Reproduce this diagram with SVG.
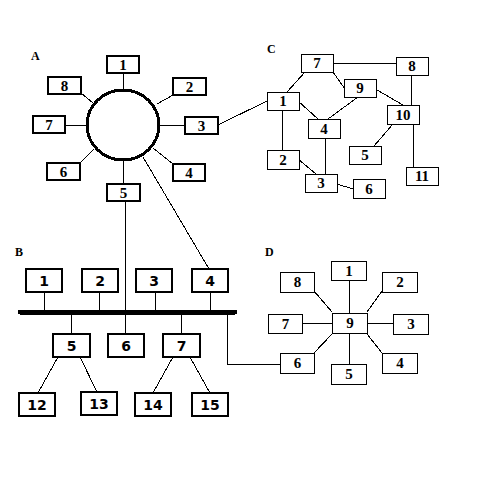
<svg xmlns="http://www.w3.org/2000/svg" width="500" height="500" viewBox="0 0 500 500" shape-rendering="crispEdges">
<style>
.bg{fill:#fff}
.ln{stroke:#000;stroke-width:1;fill:none}
.bA{fill:#fff;stroke:#000;stroke-width:2}
.bC{fill:#fff;stroke:#000;stroke-width:1}
.bB{fill:#fff;stroke:#000;stroke-width:2}
.tA{font-family:"Liberation Serif",serif;font-weight:bold;font-size:15px;text-anchor:middle}
.tC{font-family:"Liberation Serif",serif;font-weight:bold;font-size:15px;text-anchor:middle}
.tB{font-family:"DejaVu Sans",sans-serif;font-weight:bold;font-size:14px;text-anchor:middle}
.lab{font-family:"Liberation Serif",serif;font-weight:bold;font-size:12px}
</style>
<rect class="bg" x="0" y="0" width="500" height="500"/>
<g id="connectors">
<!-- A -->
<line class="ln" x1="123.5" y1="73" x2="123.5" y2="90"/>
<line class="ln" x1="157" y1="104" x2="173" y2="95"/>
<line class="ln" x1="81" y1="93" x2="93" y2="103"/>
<line class="ln" x1="65" y1="125.5" x2="87" y2="125.5"/>
<line class="ln" x1="159" y1="125.5" x2="185" y2="125.5"/>
<line class="ln" x1="80" y1="163" x2="94" y2="149"/>
<line class="ln" x1="153" y1="148" x2="173" y2="164"/>
<line class="ln" x1="123.5" y1="160" x2="123.5" y2="184"/>
<line class="ln" x1="218" y1="125" x2="267" y2="101"/>
<line class="ln" x1="143" y1="157" x2="209" y2="269"/>
<line class="ln" x1="125.5" y1="201" x2="125.5" y2="334"/>
<!-- C -->
<line class="ln" x1="333" y1="63.5" x2="396" y2="63.5"/>
<line class="ln" x1="305" y1="72" x2="287" y2="92"/>
<line class="ln" x1="333" y1="72" x2="345" y2="89"/>
<line class="ln" x1="377" y1="90" x2="403" y2="105"/>
<line class="ln" x1="358" y1="97" x2="328" y2="119"/>
<line class="ln" x1="298" y1="101" x2="318" y2="119"/>
<line class="ln" x1="411.5" y1="75" x2="411.5" y2="105"/>
<line class="ln" x1="393" y1="124" x2="374" y2="146"/>
<line class="ln" x1="413.5" y1="124" x2="413.5" y2="167"/>
<line class="ln" x1="282.5" y1="110" x2="282.5" y2="150"/>
<line class="ln" x1="298" y1="159" x2="316" y2="174"/>
<line class="ln" x1="325.5" y1="138" x2="325.5" y2="174"/>
<line class="ln" x1="337" y1="184" x2="353" y2="189"/>
<!-- B -->
<line class="ln" x1="44.5" y1="292" x2="44.5" y2="311"/>
<line class="ln" x1="99.5" y1="292" x2="99.5" y2="311"/>
<line class="ln" x1="155.5" y1="292" x2="155.5" y2="311"/>
<line class="ln" x1="210.5" y1="292" x2="210.5" y2="311"/>
<line class="ln" x1="71.5" y1="311" x2="71.5" y2="334"/>
<line class="ln" x1="181.5" y1="311" x2="181.5" y2="334"/>
<line class="ln" x1="58" y1="357" x2="38" y2="393"/>
<line class="ln" x1="80" y1="357" x2="97" y2="392"/>
<line class="ln" x1="173" y1="357" x2="153" y2="393"/>
<line class="ln" x1="190" y1="357" x2="210" y2="393"/>
<polyline class="ln" points="227.5,311 227.5,364.5 280,364.5"/>
<line x1="20" y1="312" x2="235" y2="312" stroke="#000" stroke-width="5" stroke-linecap="round"/>
<!-- D -->
<line class="ln" x1="349.5" y1="280" x2="349.5" y2="313"/>
<line class="ln" x1="314" y1="291" x2="332" y2="312"/>
<line class="ln" x1="382" y1="291" x2="367" y2="312"/>
<line class="ln" x1="302" y1="323.5" x2="332" y2="323.5"/>
<line class="ln" x1="367" y1="323.5" x2="393" y2="323.5"/>
<line class="ln" x1="314" y1="353" x2="332" y2="334"/>
<line class="ln" x1="382" y1="353" x2="367" y2="334"/>
<line class="ln" x1="349.5" y1="333" x2="349.5" y2="364"/>
</g>
<g id="labels">
<text class="lab" x="31" y="60">A</text>
<text class="lab" x="15" y="256">B</text>
<text class="lab" x="267" y="53">C</text>
<text class="lab" x="265" y="256">D</text>
</g>
<g id="A-ring"><ellipse cx="123" cy="125" rx="36" ry="35" fill="#fff" stroke="#000" stroke-width="3"/></g>
<g id="A1"><rect class="bA" x="107" y="56" width="32" height="17"/><text class="tA" x="123" y="70">1</text></g>
<g id="A2"><rect class="bA" x="173" y="78" width="33" height="17"/><text class="tA" x="189.5" y="92">2</text></g>
<g id="A3"><rect class="bA" x="185" y="117" width="33" height="17"/><text class="tA" x="201.5" y="131">3</text></g>
<g id="A4"><rect class="bA" x="173" y="164" width="32" height="17"/><text class="tA" x="189" y="178">4</text></g>
<g id="A5"><rect class="bA" x="107" y="184" width="33" height="17"/><text class="tA" x="123.5" y="198">5</text></g>
<g id="A6"><rect class="bA" x="47" y="163" width="33" height="17"/><text class="tA" x="63.5" y="177">6</text></g>
<g id="A7"><rect class="bA" x="33" y="116" width="32" height="17"/><text class="tA" x="49" y="130">7</text></g>
<g id="A8"><rect class="bA" x="48" y="77" width="33" height="17"/><text class="tA" x="64.5" y="91">8</text></g>
<g id="C7"><rect class="bC" x="301.5" y="54.5" width="32" height="18"/><text class="tC" x="317" y="68">7</text></g>
<g id="C8"><rect class="bC" x="396.5" y="57.5" width="32" height="18"/><text class="tC" x="412" y="71">8</text></g>
<g id="C9"><rect class="bC" x="344.5" y="79.5" width="32" height="18"/><text class="tC" x="360" y="93">9</text></g>
<g id="C1"><rect class="bC" x="267.5" y="92.5" width="32" height="18"/><text class="tC" x="283" y="106">1</text></g>
<g id="C10"><rect class="bC" x="387.5" y="105.5" width="32" height="19"/><text class="tC" x="403" y="120">10</text></g>
<g id="C4"><rect class="bC" x="308.5" y="119.5" width="32" height="19"/><text class="tC" x="324" y="134">4</text></g>
<g id="C5"><rect class="bC" x="349.5" y="146.5" width="32" height="18"/><text class="tC" x="365" y="160">5</text></g>
<g id="C2"><rect class="bC" x="267.5" y="150.5" width="32" height="19"/><text class="tC" x="283" y="165">2</text></g>
<g id="C3"><rect class="bC" x="305.5" y="174.5" width="32" height="18"/><text class="tC" x="321" y="188">3</text></g>
<g id="C6"><rect class="bC" x="353.5" y="179.5" width="32" height="19"/><text class="tC" x="369" y="194">6</text></g>
<g id="C11"><rect class="bC" x="406.5" y="167.5" width="32" height="18"/><text class="tC" x="422" y="181">11</text></g>
<g id="B1"><rect class="bB" x="26" y="269" width="36" height="23"/><text class="tB" x="44" y="286">1</text></g>
<g id="B2"><rect class="bB" x="82" y="269" width="36" height="23"/><text class="tB" x="100" y="286">2</text></g>
<g id="B3"><rect class="bB" x="136" y="269" width="36" height="23"/><text class="tB" x="154" y="286">3</text></g>
<g id="B4"><rect class="bB" x="192" y="269" width="36" height="23"/><text class="tB" x="210" y="286">4</text></g>
<g id="B5"><rect class="bB" x="53" y="334" width="37" height="23"/><text class="tB" x="71.5" y="351">5</text></g>
<g id="B6"><rect class="bB" x="108" y="334" width="36" height="23"/><text class="tB" x="126" y="351">6</text></g>
<g id="B7"><rect class="bB" x="163" y="334" width="37" height="23"/><text class="tB" x="181.5" y="351">7</text></g>
<g id="B12"><rect class="bB" x="19" y="393" width="36" height="23"/><text class="tB" x="37" y="410">12</text></g>
<g id="B13"><rect class="bB" x="81" y="392" width="36" height="23"/><text class="tB" x="99" y="409">13</text></g>
<g id="B14"><rect class="bB" x="135" y="393" width="36" height="23"/><text class="tB" x="153" y="410">14</text></g>
<g id="B15"><rect class="bB" x="192" y="393" width="36" height="23"/><text class="tB" x="210" y="410">15</text></g>
<g id="D1"><rect class="bC" x="331.5" y="261.5" width="35" height="19"/><text class="tC" x="349" y="276">1</text></g>
<g id="D8"><rect class="bC" x="280.5" y="272.5" width="34" height="20"/><text class="tC" x="297.5" y="287">8</text></g>
<g id="D2"><rect class="bC" x="382.5" y="272.5" width="35" height="20"/><text class="tC" x="400" y="287">2</text></g>
<g id="D7"><rect class="bC" x="268.5" y="314.5" width="34" height="19"/><text class="tC" x="285.5" y="329">7</text></g>
<g id="D9"><rect class="bC" x="332.5" y="313.5" width="35" height="20"/><text class="tC" x="350" y="328">9</text></g>
<g id="D3"><rect class="bC" x="393.5" y="314.5" width="35" height="20"/><text class="tC" x="411" y="329">3</text></g>
<g id="D6"><rect class="bC" x="280.5" y="353.5" width="34" height="20"/><text class="tC" x="297.5" y="368">6</text></g>
<g id="D4"><rect class="bC" x="382.5" y="353.5" width="35" height="20"/><text class="tC" x="400" y="368">4</text></g>
<g id="D5"><rect class="bC" x="331.5" y="364.5" width="35" height="20"/><text class="tC" x="349" y="379">5</text></g>
</svg>
